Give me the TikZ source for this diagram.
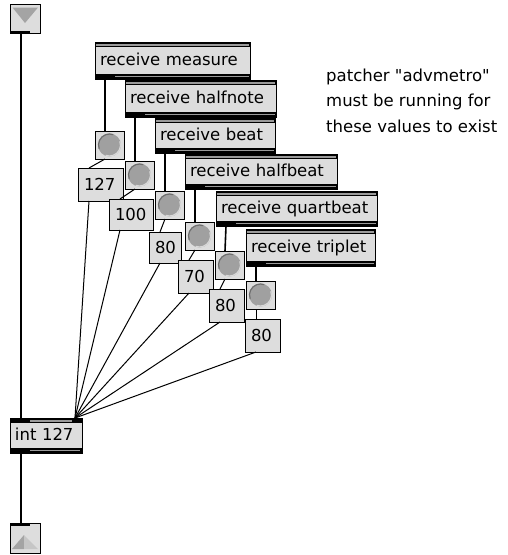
\documentclass[tikz,border=0pt]{standalone}
\usepackage{fontspec}
\newfontfamily\patchfont{DejaVu Sans}
\usetikzlibrary{calc}

\definecolor{boxfill}{HTML}{DDDDDD}
\definecolor{stripe}{HTML}{9A9A9A}
\definecolor{bangfill}{HTML}{A0A0A0}
\definecolor{bangdark}{HTML}{6E6E6E}
\definecolor{banglight}{HTML}{D8D8D8}
\definecolor{tridark}{HTML}{A4A4A4}
\definecolor{trilight}{HTML}{C6C6C6}

\tikzset{
  patchtext/.style={font=\patchfont\fontsize{16.5}{18}\selectfont},
  maxbox/.style={draw=black, fill=boxfill, line width=1pt, rectangle,
    outer sep=0pt, inner ysep=0pt, anchor=north west, patchtext},
  objbox/.style={maxbox, inner xsep=5pt, align=left, text height=10.5pt, text depth=0pt},
  numbox/.style={maxbox, inner xsep=6pt, align=left, text height=12pt, text depth=0pt},
  bangbox/.style={maxbox, minimum width=29pt, minimum height=28pt, inner sep=0pt},
  portbox/.style={maxbox, minimum width=30pt, inner sep=0pt},
  cord/.style={line width=1.6pt, black},
  thincord/.style={line width=1pt, black},
}

% object box: name, x, y, width, height, text
\newcommand\maxobj[6]{%
  \node[objbox, minimum width=#4pt, minimum height=#5pt, text width=#4pt-10pt] (#1) at (#2,#3) {#6};}
% number box: name, x, y, width, height, value
\newcommand\maxnum[6]{%
  \node[numbox, minimum width=#4pt, minimum height=#5pt, text width=#4pt-12pt] (#1) at (#2,#3) {#6};}
% double border stripes of an object box with one outlet
\newcommand\objstrips[1]{%
  \fill[black] (#1.north west) rectangle ($(#1.north east)+(0,5)$);
  \fill[stripe] ($(#1.north west)+(1,2)$) rectangle ($(#1.north east)+(-1,3.5)$);
  \fill[black] ($(#1.south west)+(0,-5)$) rectangle (#1.south east);
  \fill[stripe] ($(#1.south west)+(20,-3.5)$) rectangle ($(#1.south east)+(-1,-2)$);}
% bang button face
\newcommand\bangface[1]{%
  \fill[bangfill] (#1.center) circle (11.5);
  \draw[bangdark, line width=1.2pt] (#1.center) ++(160:11) arc[start angle=160, end angle=290, radius=11];
  \draw[banglight, line width=1.2pt] (#1.center) ++(-20:11) arc[start angle=-20, end angle=110, radius=11];}

\begin{document}
\begin{tikzpicture}[x=1pt, y=-1pt]
\useasboundingbox[fill=white] (0,0) rectangle (507,555);

% inlet -> int -> outlet cords
\draw[cord] (21,33) coordinate (inlo) -- (21,418) coordinate (intl);
\draw[cord] (21,453) coordinate (intlo) -- (21,523) coordinate (outli);

% ---- receive objects
\maxobj{rmeasure}{95}{42}{155}{37}{receive measure}
\maxobj{rhalfnote}{125}{80}{151}{37}{receive halfnote}
\maxobj{rbeat}{155}{118}{120}{35}{receive beat}
\maxobj{rhalfbeat}{185}{154}{152}{35}{receive halfbeat}
\maxobj{rquart}{216}{191}{161}{35}{receive quartbeat}
\maxobj{rtriplet}{246}{229}{129}{37}{receive triplet}
\foreach \r in {rmeasure,rhalfnote,rbeat,rhalfbeat,rquart,rtriplet}{\objstrips{\r}}

% ---- bang buttons
\node[bangbox] (b1) at (95,131) {};
\node[bangbox] (b2) at (125,161) {};
\node[bangbox] (b3) at (155,191) {};
\node[bangbox] (b4) at (185,222) {};
\node[bangbox] (b5) at (215,251) {};
\node[bangbox] (b6) at (246,281) {};
\foreach \b in {b1,b2,b3,b4,b5,b6}{\bangface{\b}}

% ---- number boxes
\maxnum{n1}{78}{168}{45}{33}{127}
\maxnum{n2}{109}{199}{44}{31}{100}
\maxnum{n3}{149}{232}{32}{31}{80}
\maxnum{n4}{178}{260}{35}{33}{70}
\maxnum{n5}{209}{289}{35}{33}{80}
\maxnum{n6}{245}{319}{35}{33}{80}

% receive -> bang
\foreach \r/\b in {rmeasure/b1,rhalfnote/b2,rbeat/b3,rhalfbeat/b4,rquart/b5,rtriplet/b6}{
  \draw[cord] ($(\r.south west)+(10,0)$) -- ($(\b.north west)+(10,0)$);}
% bang -> number
\foreach \b/\n in {b1/n1,b2/n2,b3/n3,b4/n4,b5/n5,b6/n6}{
  \draw[thincord] ($(\b.south west)+(10,0)$) -- ($(\n.north west)+(11,0)$);}

% ---- int object
\node[objbox, minimum width=72pt, minimum height=35pt, text width=62pt] (int) at (10,418) {int 127};
\fill[black] (int.north west) rectangle ($(int.north east)+(0,5)$);
\fill[stripe] ($(int.north west)+(20,2)$) rectangle ($(int.north east)+(-10,3.5)$);
\fill[black] ($(int.south west)+(0,-5)$) rectangle (int.south east);
\fill[stripe] ($(int.south west)+(20,-3.5)$) rectangle ($(int.south east)+(-2,-2)$);

% number -> right inlet of int
\foreach \n in {n1,n2,n3,n4,n5,n6}{
  \draw[thincord] ($(\n.south west)+(11,0)$) -- ($(int.north east)+(-7,0)$);}

% ---- inlet and outlet
\node[portbox, minimum height=29pt] (inl) at (10,4) {};
\fill[tridark] ($(inl.north west)+(2.5,3.5)$) -- ($(inl.north east)+(-2,3.5)$) -- ($(inl.north west)+(15,19)$) -- cycle;
\fill[black] ($(inl.south west)+(0,-2.5)$) rectangle ($(inl.south west)+(20,0)$);

\node[portbox, minimum height=30pt] (outl) at (10,523) {};
\fill[tridark] ($(outl.north west)+(2,26)$) -- ($(outl.north west)+(14,12)$) -- ($(outl.north west)+(14,26)$) -- cycle;
\fill[trilight] ($(outl.north west)+(14,26)$) -- ($(outl.north west)+(14,12)$) -- ($(outl.north west)+(28,26)$) -- cycle;
\fill[black] (outl.north west) rectangle ($(outl.north west)+(20,2.5)$);

% ---- comment
\node[anchor=base west, inner sep=0pt, patchtext] (note) at (326,81)
  {\vtop{\baselineskip=25.6pt\lineskiplimit=-100pt
    \hbox{patcher "advmetro"}\hbox{must be running for}\hbox{these values to exist}}};
\end{tikzpicture}
\end{document}
